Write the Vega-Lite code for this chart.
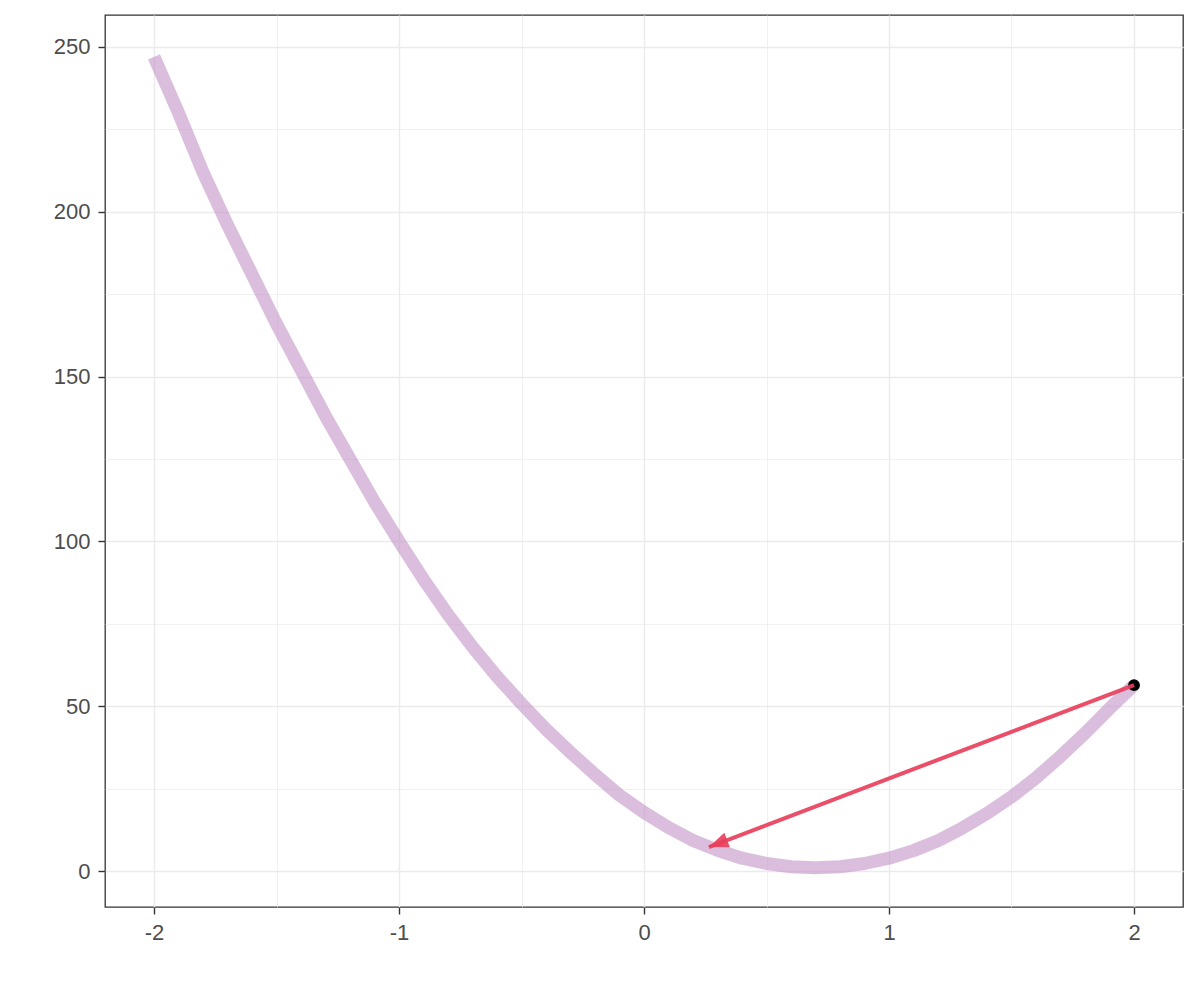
{
  "$schema": "https://vega.github.io/schema/vega-lite/v6.json",
  "width": 1078,
  "height": 892,
  "autosize": "none",
  "padding": {"left": 105, "top": 15, "right": 17, "bottom": 93},
  "background": "white",
  "config": {
    "view": {"stroke": "#333333", "strokeWidth": 1.3},
    "axis": {
      "domain": false,
      "labelFont": "Liberation Sans",
      "labelFontSize": 22,
      "labelColor": "#4d4d4d",
      "tickColor": "#333333",
      "tickWidth": 1.4,
      "tickSize": 7,
      "labelPadding": 8,
      "gridColor": "#ebebeb",
      "title": null
    }
  },
  "datasets": {
    "curve": [
      {"x": -2.0, "y": 247},
      {"x": -1.9, "y": 230},
      {"x": -1.8, "y": 212},
      {"x": -1.7, "y": 196},
      {"x": -1.6, "y": 181},
      {"x": -1.5, "y": 166},
      {"x": -1.4, "y": 152},
      {"x": -1.3, "y": 138},
      {"x": -1.2, "y": 125},
      {"x": -1.1, "y": 112},
      {"x": -1.0, "y": 100},
      {"x": -0.9, "y": 88.5},
      {"x": -0.8, "y": 77.8},
      {"x": -0.7, "y": 68},
      {"x": -0.6, "y": 59},
      {"x": -0.5, "y": 50.8},
      {"x": -0.4, "y": 43},
      {"x": -0.3, "y": 36},
      {"x": -0.2, "y": 29.3},
      {"x": -0.1, "y": 23},
      {"x": 0.0, "y": 17.8},
      {"x": 0.1, "y": 13.2},
      {"x": 0.2, "y": 9.3},
      {"x": 0.3, "y": 6.3},
      {"x": 0.4, "y": 3.9},
      {"x": 0.5, "y": 2.3},
      {"x": 0.6, "y": 1.3},
      {"x": 0.7, "y": 1.0},
      {"x": 0.8, "y": 1.3},
      {"x": 0.9, "y": 2.3},
      {"x": 1.0, "y": 3.9},
      {"x": 1.1, "y": 6.2},
      {"x": 1.2, "y": 9.2},
      {"x": 1.3, "y": 13.1},
      {"x": 1.4, "y": 17.5},
      {"x": 1.5, "y": 22.5},
      {"x": 1.6, "y": 28.3},
      {"x": 1.7, "y": 34.8},
      {"x": 1.8, "y": 41.8},
      {"x": 1.9, "y": 49.3},
      {"x": 2.0, "y": 56.4}
    ],
    "step": [
      {"x0": 2.0, "y0": 56.4, "x1": 0.265, "y1": 7.3}
    ]
  },
  "layer": [
    {
      "data": {"name": "curve"},
      "mark": {"type": "line", "color": "#c393c6", "opacity": 0.6, "strokeWidth": 13, "strokeCap": "butt", "strokeJoin": "round"},
      "encoding": {
        "x": {
          "field": "x", "type": "quantitative",
          "scale": {"domain": [-2.2, 2.2], "nice": false, "zero": false},
          "axis": {
            "values": [-2, -1.5, -1, -0.5, 0, 0.5, 1, 1.5, 2],
            "labelExpr": "datum.value % 1 === 0 ? toString(datum.value) : ''",
            "tickOpacity": {"condition": {"test": "datum.value % 1 === 0", "value": 1}, "value": 0},
            "gridWidth": {"condition": {"test": "datum.value % 1 === 0", "value": 1.4}, "value": 0.7}
          }
        },
        "y": {
          "field": "y", "type": "quantitative",
          "scale": {"domain": [-10.9, 259.7], "nice": false, "zero": false},
          "axis": {
            "values": [0, 25, 50, 75, 100, 125, 150, 175, 200, 225, 250],
            "labelExpr": "datum.value % 50 === 0 ? toString(datum.value) : ''",
            "tickOpacity": {"condition": {"test": "datum.value % 50 === 0", "value": 1}, "value": 0},
            "gridWidth": {"condition": {"test": "datum.value % 50 === 0", "value": 1.4}, "value": 0.7}
          }
        }
      }
    },
    {
      "data": {"name": "step"},
      "mark": {"type": "point", "shape": "circle", "filled": true, "color": "black", "opacity": 1, "size": 140},
      "encoding": {
        "x": {"field": "x0", "type": "quantitative"},
        "y": {"field": "y0", "type": "quantitative"}
      }
    },
    {
      "data": {"name": "step"},
      "mark": {"type": "rule", "color": "#e83f5b", "opacity": 0.92, "strokeWidth": 4},
      "encoding": {
        "x": {"field": "x0", "type": "quantitative"},
        "y": {"field": "y0", "type": "quantitative"},
        "x2": {"field": "x1"},
        "y2": {"field": "y1"}
      }
    },
    {
      "data": {"name": "step"},
      "mark": {"type": "point", "shape": "M0,0L-0.8,2L0.8,2Z", "filled": true, "color": "#e83f5b", "opacity": 0.92, "size": 380, "angle": 249, "strokeWidth": 0},
      "encoding": {
        "x": {"field": "x1", "type": "quantitative"},
        "y": {"field": "y1", "type": "quantitative"}
      }
    }
  ]
}
